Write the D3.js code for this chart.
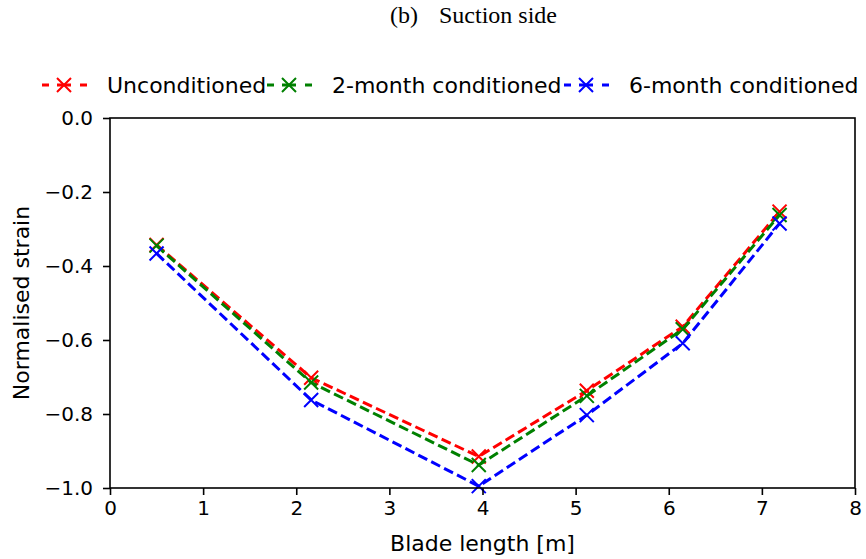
<!DOCTYPE html>
<html>
<head>
<meta charset="utf-8">
<script src="https://cdn.jsdelivr.net/npm/d3@7"></script>
<style>
  body { margin: 0; background: #fff; }
  text { font-family: "DejaVu Sans", sans-serif; }
</style>
</head>
<body>
<script>
var bladeLength = [0.5, 2.16, 3.96, 5.12, 6.15, 7.19];
var unconditioned = [-0.343, -0.702, -0.915, -0.737, -0.564, -0.253];
var twoMonth = [-0.345, -0.715, -0.938, -0.751, -0.571, -0.262];
var sixMonth = [-0.366, -0.762, -0.995, -0.803, -0.609, -0.285];
var xTicks = [0, 1, 2, 3, 4, 5, 6, 7, 8];
var yTicks = [0, -0.2, -0.4, -0.6, -0.8, -1.0];

var series = [
    {name: "Unconditioned", color: "#ff0000", values: unconditioned},
    {name: "2-month conditioned", color: "#008000", values: twoMonth},
    {name: "6-month conditioned", color: "#0000ff", values: sixMonth}
];

var svg = d3.select("body").append("svg")
    .attr("width", 866)
    .attr("height", 559);

var margin = {top: 118, right: 11, bottom: 71, left: 110};
var width = 866 - margin.left - margin.right;
var height = 559 - margin.top - margin.bottom;

var x = d3.scaleLinear().domain([0, 8]).range([0, width]);
var y = d3.scaleLinear().domain([-1, 0]).range([height, 0]);

// title (caption)
var serif = "'Liberation Serif', 'Times New Roman', serif";
svg.append("text")
    .attr("x", 390).attr("y", 23)
    .style("font-family", serif).style("font-size", "24px")
    .text("(b)");
svg.append("text")
    .attr("x", 439).attr("y", 23)
    .style("font-family", serif).style("font-size", "24px")
    .text("Suction side");

var g = svg.append("g")
    .attr("transform", "translate(" + margin.left + "," + margin.top + ")");

var line = d3.line()
    .x(function(d, i) { return x(bladeLength[i]); })
    .y(function(d) { return y(d); });

function drawCross(sel, cx, cy, r, color) {
    sel.append("path")
        .attr("d", "M" + (cx - r) + "," + (cy - r) + "L" + (cx + r) + "," + (cy + r) +
                   "M" + (cx - r) + "," + (cy + r) + "L" + (cx + r) + "," + (cy - r))
        .attr("stroke", color)
        .attr("stroke-width", 2)
        .attr("fill", "none");
}

series.forEach(function(s) {
    g.append("path")
        .datum(s.values)
        .attr("fill", "none")
        .attr("stroke", s.color)
        .attr("stroke-width", 3)
        .attr("stroke-dasharray", "10,4.5")
        .attr("d", line);
    s.values.forEach(function(v, i) {
        drawCross(g, x(bladeLength[i]), y(v), 7, s.color);
    });
});

// axes
var xaxis = g.append("g")
    .attr("transform", "translate(0," + height + ")")
    .call(d3.axisBottom(x).tickValues(xTicks).tickSize(7).tickPadding(6).tickFormat(d3.format("d")));
var yaxis = g.append("g")
    .call(d3.axisLeft(y).tickValues(yTicks).tickSize(7).tickPadding(10)
        .tickFormat(function(d) { return d3.format(".1f")(d).replace("-", "\u2212"); }));

[xaxis, yaxis].forEach(function(a) {
    a.selectAll("text").style("font-size", "20px").attr("fill", "#000");
    a.selectAll("line").attr("stroke", "#000").attr("stroke-width", 1.6);
    a.select(".domain").remove();
});

g.append("rect")
    .attr("width", width)
    .attr("height", height)
    .attr("fill", "none")
    .attr("stroke", "#000")
    .attr("stroke-width", 1.6);

// axis labels
svg.append("text")
    .attr("x", margin.left + x(4))
    .attr("y", 551)
    .attr("text-anchor", "middle")
    .style("font-size", "22px")
    .text("Blade length [m]");

svg.append("text")
    .attr("transform", "translate(29," + (margin.top + height / 2) + ") rotate(-90)")
    .attr("text-anchor", "middle")
    .style("font-size", "22px")
    .text("Normalised strain");

// legend
var legendPos = [42, 267, 564];
series.forEach(function(s, i) {
    var lg = svg.append("g").attr("transform", "translate(" + legendPos[i] + ",85)");
    lg.append("line")
        .attr("x1", 0).attr("x2", 45)
        .attr("y1", 0).attr("y2", 0)
        .attr("stroke", s.color)
        .attr("stroke-width", 3)
        .attr("stroke-dasharray", "7,8,14,9,7");
    drawCross(lg, 22, 0, 7, s.color);
    lg.append("text")
        .attr("x", 65)
        .attr("y", 8)
        .style("font-size", "22px")
        .text(s.name);
});
</script>
</body>
</html>
